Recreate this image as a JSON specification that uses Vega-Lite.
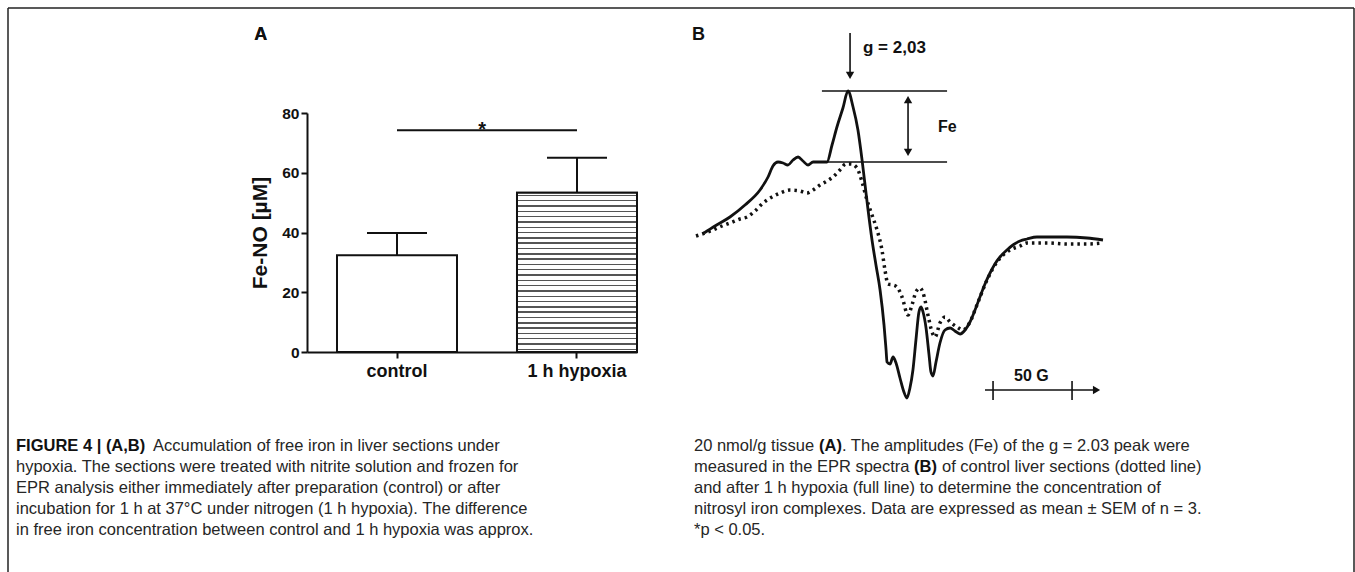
{
  "$schema": "https://vega.github.io/schema/vega-lite/v6.json",
  "width": 1346,
  "height": 564,
  "autosize": {"type": "none"},
  "padding": {"left": 8, "top": 8, "right": 1, "bottom": 0},
  "background": "white",
  "config": {"view": {"stroke": null}, "font": "Liberation Sans"},
  "datasets": {
    "bars": [
      {"group": "control", "mean": 32.4, "upper": 39.8},
      {"group": "1 h hypoxia", "mean": 53.3, "upper": 65.0}
    ],
    "sig": [{"from": "control", "to": "1 h hypoxia", "level": 74.2, "label": "*"}],
    "spectra": [
      {"series": "1 h hypoxia", "G": 5.1, "I": 1.5},
      {"series": "1 h hypoxia", "G": 12.0, "I": 5.0},
      {"series": "1 h hypoxia", "G": 21.5, "I": 9.5},
      {"series": "1 h hypoxia", "G": 31.0, "I": 15.5},
      {"series": "1 h hypoxia", "G": 40.5, "I": 23.0},
      {"series": "1 h hypoxia", "G": 45.6, "I": 29.5},
      {"series": "1 h hypoxia", "G": 48.7, "I": 35.0},
      {"series": "1 h hypoxia", "G": 51.9, "I": 37.0},
      {"series": "1 h hypoxia", "G": 55.1, "I": 36.5},
      {"series": "1 h hypoxia", "G": 58.2, "I": 35.5},
      {"series": "1 h hypoxia", "G": 61.4, "I": 38.0},
      {"series": "1 h hypoxia", "G": 64.6, "I": 39.5},
      {"series": "1 h hypoxia", "G": 67.7, "I": 37.5},
      {"series": "1 h hypoxia", "G": 70.9, "I": 35.5},
      {"series": "1 h hypoxia", "G": 74.1, "I": 37.0},
      {"series": "1 h hypoxia", "G": 77.2, "I": 37.0},
      {"series": "1 h hypoxia", "G": 82.9, "I": 37.0},
      {"series": "1 h hypoxia", "G": 86.1, "I": 45.5},
      {"series": "1 h hypoxia", "G": 89.2, "I": 54.5},
      {"series": "1 h hypoxia", "G": 93.0, "I": 64.0},
      {"series": "1 h hypoxia", "G": 96.2, "I": 72.5},
      {"series": "1 h hypoxia", "G": 99.4, "I": 64.5},
      {"series": "1 h hypoxia", "G": 102.5, "I": 53.0},
      {"series": "1 h hypoxia", "G": 105.1, "I": 38.0},
      {"series": "1 h hypoxia", "G": 107.0, "I": 25.5},
      {"series": "1 h hypoxia", "G": 108.9, "I": 13.0},
      {"series": "1 h hypoxia", "G": 111.4, "I": -2.0},
      {"series": "1 h hypoxia", "G": 113.9, "I": -14.5},
      {"series": "1 h hypoxia", "G": 116.5, "I": -27.0},
      {"series": "1 h hypoxia", "G": 119.0, "I": -44.5},
      {"series": "1 h hypoxia", "G": 120.3, "I": -57.0},
      {"series": "1 h hypoxia", "G": 120.9, "I": -63.0},
      {"series": "1 h hypoxia", "G": 122.8, "I": -64.0},
      {"series": "1 h hypoxia", "G": 124.7, "I": -60.5},
      {"series": "1 h hypoxia", "G": 126.6, "I": -63.5},
      {"series": "1 h hypoxia", "G": 129.1, "I": -71.0},
      {"series": "1 h hypoxia", "G": 131.6, "I": -78.0},
      {"series": "1 h hypoxia", "G": 133.5, "I": -81.0},
      {"series": "1 h hypoxia", "G": 135.4, "I": -76.0},
      {"series": "1 h hypoxia", "G": 137.3, "I": -67.0},
      {"series": "1 h hypoxia", "G": 139.2, "I": -52.0},
      {"series": "1 h hypoxia", "G": 141.1, "I": -38.0},
      {"series": "1 h hypoxia", "G": 142.4, "I": -35.5},
      {"series": "1 h hypoxia", "G": 143.7, "I": -38.0},
      {"series": "1 h hypoxia", "G": 145.6, "I": -46.0},
      {"series": "1 h hypoxia", "G": 147.5, "I": -59.5},
      {"series": "1 h hypoxia", "G": 148.7, "I": -68.0},
      {"series": "1 h hypoxia", "G": 150.0, "I": -70.0},
      {"series": "1 h hypoxia", "G": 151.9, "I": -63.0},
      {"series": "1 h hypoxia", "G": 154.4, "I": -53.5},
      {"series": "1 h hypoxia", "G": 157.6, "I": -47.0},
      {"series": "1 h hypoxia", "G": 160.8, "I": -46.0},
      {"series": "1 h hypoxia", "G": 163.9, "I": -47.5},
      {"series": "1 h hypoxia", "G": 167.1, "I": -49.0},
      {"series": "1 h hypoxia", "G": 170.3, "I": -47.0},
      {"series": "1 h hypoxia", "G": 173.4, "I": -43.0},
      {"series": "1 h hypoxia", "G": 176.6, "I": -37.0},
      {"series": "1 h hypoxia", "G": 179.7, "I": -30.5},
      {"series": "1 h hypoxia", "G": 182.9, "I": -24.0},
      {"series": "1 h hypoxia", "G": 186.1, "I": -18.5},
      {"series": "1 h hypoxia", "G": 189.2, "I": -14.0},
      {"series": "1 h hypoxia", "G": 192.4, "I": -10.5},
      {"series": "1 h hypoxia", "G": 196.8, "I": -7.0},
      {"series": "1 h hypoxia", "G": 200.6, "I": -4.5},
      {"series": "1 h hypoxia", "G": 205.1, "I": -2.5},
      {"series": "1 h hypoxia", "G": 209.5, "I": -1.5},
      {"series": "1 h hypoxia", "G": 215.8, "I": -0.5},
      {"series": "1 h hypoxia", "G": 222.2, "I": -0.5},
      {"series": "1 h hypoxia", "G": 234.8, "I": -0.5},
      {"series": "1 h hypoxia", "G": 247.5, "I": -1.0},
      {"series": "1 h hypoxia", "G": 257.6, "I": -2.0},
      {"series": "control", "G": 0.0, "I": 0.0},
      {"series": "control", "G": 5.7, "I": 1.5},
      {"series": "control", "G": 10.8, "I": 3.0},
      {"series": "control", "G": 16.5, "I": 5.0},
      {"series": "control", "G": 21.5, "I": 6.5},
      {"series": "control", "G": 27.8, "I": 8.5},
      {"series": "control", "G": 32.3, "I": 9.5},
      {"series": "control", "G": 37.3, "I": 12.5},
      {"series": "control", "G": 42.4, "I": 16.5},
      {"series": "control", "G": 48.1, "I": 19.5},
      {"series": "control", "G": 53.2, "I": 21.5},
      {"series": "control", "G": 59.5, "I": 23.0},
      {"series": "control", "G": 65.8, "I": 22.5},
      {"series": "control", "G": 70.3, "I": 21.5},
      {"series": "control", "G": 74.1, "I": 23.0},
      {"series": "control", "G": 78.5, "I": 25.5},
      {"series": "control", "G": 82.9, "I": 27.5},
      {"series": "control", "G": 86.7, "I": 29.5},
      {"series": "control", "G": 91.1, "I": 33.0},
      {"series": "control", "G": 94.9, "I": 36.0},
      {"series": "control", "G": 98.1, "I": 36.0},
      {"series": "control", "G": 101.9, "I": 34.0},
      {"series": "control", "G": 105.1, "I": 27.0},
      {"series": "control", "G": 108.2, "I": 18.0},
      {"series": "control", "G": 111.4, "I": 10.5},
      {"series": "control", "G": 114.6, "I": 3.0},
      {"series": "control", "G": 117.7, "I": -7.0},
      {"series": "control", "G": 119.6, "I": -17.0},
      {"series": "control", "G": 121.5, "I": -24.0},
      {"series": "control", "G": 124.7, "I": -24.5},
      {"series": "control", "G": 127.2, "I": -25.5},
      {"series": "control", "G": 130.4, "I": -30.5},
      {"series": "control", "G": 134.2, "I": -39.5},
      {"series": "control", "G": 136.7, "I": -34.5},
      {"series": "control", "G": 139.2, "I": -28.0},
      {"series": "control", "G": 141.8, "I": -26.0},
      {"series": "control", "G": 144.3, "I": -30.0},
      {"series": "control", "G": 146.8, "I": -39.5},
      {"series": "control", "G": 149.4, "I": -48.0},
      {"series": "control", "G": 151.3, "I": -50.5},
      {"series": "control", "G": 154.4, "I": -43.5},
      {"series": "control", "G": 157.6, "I": -40.5},
      {"series": "control", "G": 160.8, "I": -43.0},
      {"series": "control", "G": 165.2, "I": -45.5},
      {"series": "control", "G": 169.0, "I": -47.0},
      {"series": "control", "G": 173.4, "I": -43.0},
      {"series": "control", "G": 177.8, "I": -34.5},
      {"series": "control", "G": 184.2, "I": -22.0},
      {"series": "control", "G": 190.5, "I": -13.0},
      {"series": "control", "G": 198.7, "I": -7.0},
      {"series": "control", "G": 205.1, "I": -5.0},
      {"series": "control", "G": 209.5, "I": -3.5},
      {"series": "control", "G": 222.2, "I": -3.5},
      {"series": "control", "G": 234.8, "I": -4.0},
      {"series": "control", "G": 247.5, "I": -4.0},
      {"series": "control", "G": 257.6, "I": -3.5}
    ],
    "caption": [
      {"col": "left", "line": 2, "text": "hypoxia. The sections were treated with nitrite solution and frozen for"},
      {"col": "left", "line": 3, "text": "EPR analysis either immediately after preparation (control) or after"},
      {"col": "left", "line": 4, "text": "incubation for 1 h at 37°C under nitrogen (1 h hypoxia). The difference"},
      {"col": "left", "line": 5, "text": "in free iron concentration between control and 1 h hypoxia was approx."},
      {"col": "right", "line": 1, "text": "20 nmol/g tissue"},
      {"col": "right", "line": 2, "text": "measured in the EPR spectra"},
      {"col": "right", "line": 3, "text": "and after 1 h hypoxia (full line) to determine the concentration of"},
      {"col": "right", "line": 4, "text": "nitrosyl iron complexes. Data are expressed as mean ± SEM of n = 3."},
      {"col": "right", "line": 5, "text": "*p < 0.05."}
    ]
  },
  "resolve": {"scale": {"x": "independent", "y": "independent"}},
  "layer": [
    {
      "data": {"values": [{"part": "frame"}]},
      "layer": [
        {"mark": {"type": "rule", "stroke": "#222", "strokeWidth": 1.5},
         "encoding": {"x": {"datum": 0, "type": "quantitative", "scale": {"domain": [0, 1]}, "axis": null}}},
        {"mark": {"type": "rule", "stroke": "#222", "strokeWidth": 1.5},
         "encoding": {"x": {"datum": 1, "type": "quantitative", "scale": {"domain": [0, 1]}, "axis": null}}},
        {"mark": {"type": "rule", "stroke": "#222", "strokeWidth": 1.5},
         "encoding": {"y": {"datum": 1, "type": "quantitative", "scale": {"domain": [0, 1]}, "axis": null}}}
      ]
    },
    {
      "data": {"name": "bars"},
      "layer": [
        {"mark": {"type": "bar", "fill": "white", "stroke": "#111", "strokeWidth": 2},
         "encoding": {
           "x": {"field": "group", "type": "nominal", "sort": null,
                 "scale": {"type": "band", "domain": ["control", "1 h hypoxia"], "range": [299, 629], "paddingInner": 0.3333, "paddingOuter": 0.08333, "align": 1},
                 "axis": {"orient": "bottom", "offset": -220, "title": null, "labelAngle": 0, "labelFont": "Liberation Sans", "labelFontSize": 18, "labelFontWeight": "bold", "labelColor": "#111", "labelPadding": 4, "tickSize": 6, "tickWidth": 2, "tickColor": "#111", "domainWidth": 2, "domainColor": "#111", "grid": false}},
           "y": {"field": "mean", "type": "quantitative",
                 "scale": {"domain": [0, 80], "range": [344, 105], "nice": false},
                 "axis": {"orient": "left", "offset": -299, "values": [0, 20, 40, 60, 80], "title": "Fe-NO [µM]", "titleFont": "Liberation Sans", "titleFontSize": 21, "titleFontWeight": "bold", "titleColor": "#111", "titlePadding": 11, "labelFont": "Liberation Sans", "labelFontSize": 15.5, "labelFontWeight": "bold", "labelColor": "#111", "labelPadding": 2, "tickSize": 6, "tickWidth": 2, "tickColor": "#111", "domainWidth": 2, "domainColor": "#111", "grid": false}}
         }},
        {"transform": [{"filter": "datum.group === '1 h hypoxia'"}],
         "mark": {"type": "bar", "stroke": "#111", "strokeWidth": 2,
                  "fill": {"gradient": "linear", "x1": 0, "y1": 0, "x2": 0, "y2": 1, "stops": [
                    {"offset": 0, "color": "#fff"},
                    {"offset": 0.0122, "color": "#fff"}, {"offset": 0.0122, "color": "#555"}, {"offset": 0.0212, "color": "#555"}, {"offset": 0.0212, "color": "#fff"},
                    {"offset": 0.0455, "color": "#fff"}, {"offset": 0.0455, "color": "#555"}, {"offset": 0.0545, "color": "#555"}, {"offset": 0.0545, "color": "#fff"},
                    {"offset": 0.0788, "color": "#fff"}, {"offset": 0.0788, "color": "#555"}, {"offset": 0.0878, "color": "#555"}, {"offset": 0.0878, "color": "#fff"},
                    {"offset": 0.1122, "color": "#fff"}, {"offset": 0.1122, "color": "#555"}, {"offset": 0.1212, "color": "#555"}, {"offset": 0.1212, "color": "#fff"},
                    {"offset": 0.1455, "color": "#fff"}, {"offset": 0.1455, "color": "#555"}, {"offset": 0.1545, "color": "#555"}, {"offset": 0.1545, "color": "#fff"},
                    {"offset": 0.1788, "color": "#fff"}, {"offset": 0.1788, "color": "#555"}, {"offset": 0.1878, "color": "#555"}, {"offset": 0.1878, "color": "#fff"},
                    {"offset": 0.2122, "color": "#fff"}, {"offset": 0.2122, "color": "#555"}, {"offset": 0.2212, "color": "#555"}, {"offset": 0.2212, "color": "#fff"},
                    {"offset": 0.2455, "color": "#fff"}, {"offset": 0.2455, "color": "#555"}, {"offset": 0.2545, "color": "#555"}, {"offset": 0.2545, "color": "#fff"},
                    {"offset": 0.2788, "color": "#fff"}, {"offset": 0.2788, "color": "#555"}, {"offset": 0.2878, "color": "#555"}, {"offset": 0.2878, "color": "#fff"},
                    {"offset": 0.3122, "color": "#fff"}, {"offset": 0.3122, "color": "#555"}, {"offset": 0.3212, "color": "#555"}, {"offset": 0.3212, "color": "#fff"},
                    {"offset": 0.3455, "color": "#fff"}, {"offset": 0.3455, "color": "#555"}, {"offset": 0.3545, "color": "#555"}, {"offset": 0.3545, "color": "#fff"},
                    {"offset": 0.3788, "color": "#fff"}, {"offset": 0.3788, "color": "#555"}, {"offset": 0.3878, "color": "#555"}, {"offset": 0.3878, "color": "#fff"},
                    {"offset": 0.4122, "color": "#fff"}, {"offset": 0.4122, "color": "#555"}, {"offset": 0.4212, "color": "#555"}, {"offset": 0.4212, "color": "#fff"},
                    {"offset": 0.4455, "color": "#fff"}, {"offset": 0.4455, "color": "#555"}, {"offset": 0.4545, "color": "#555"}, {"offset": 0.4545, "color": "#fff"},
                    {"offset": 0.4788, "color": "#fff"}, {"offset": 0.4788, "color": "#555"}, {"offset": 0.4878, "color": "#555"}, {"offset": 0.4878, "color": "#fff"},
                    {"offset": 0.5122, "color": "#fff"}, {"offset": 0.5122, "color": "#555"}, {"offset": 0.5212, "color": "#555"}, {"offset": 0.5212, "color": "#fff"},
                    {"offset": 0.5455, "color": "#fff"}, {"offset": 0.5455, "color": "#555"}, {"offset": 0.5545, "color": "#555"}, {"offset": 0.5545, "color": "#fff"},
                    {"offset": 0.5788, "color": "#fff"}, {"offset": 0.5788, "color": "#555"}, {"offset": 0.5878, "color": "#555"}, {"offset": 0.5878, "color": "#fff"},
                    {"offset": 0.6122, "color": "#fff"}, {"offset": 0.6122, "color": "#555"}, {"offset": 0.6212, "color": "#555"}, {"offset": 0.6212, "color": "#fff"},
                    {"offset": 0.6455, "color": "#fff"}, {"offset": 0.6455, "color": "#555"}, {"offset": 0.6545, "color": "#555"}, {"offset": 0.6545, "color": "#fff"},
                    {"offset": 0.6788, "color": "#fff"}, {"offset": 0.6788, "color": "#555"}, {"offset": 0.6878, "color": "#555"}, {"offset": 0.6878, "color": "#fff"},
                    {"offset": 0.7122, "color": "#fff"}, {"offset": 0.7122, "color": "#555"}, {"offset": 0.7212, "color": "#555"}, {"offset": 0.7212, "color": "#fff"},
                    {"offset": 0.7455, "color": "#fff"}, {"offset": 0.7455, "color": "#555"}, {"offset": 0.7545, "color": "#555"}, {"offset": 0.7545, "color": "#fff"},
                    {"offset": 0.7788, "color": "#fff"}, {"offset": 0.7788, "color": "#555"}, {"offset": 0.7878, "color": "#555"}, {"offset": 0.7878, "color": "#fff"},
                    {"offset": 0.8122, "color": "#fff"}, {"offset": 0.8122, "color": "#555"}, {"offset": 0.8212, "color": "#555"}, {"offset": 0.8212, "color": "#fff"},
                    {"offset": 0.8455, "color": "#fff"}, {"offset": 0.8455, "color": "#555"}, {"offset": 0.8545, "color": "#555"}, {"offset": 0.8545, "color": "#fff"},
                    {"offset": 0.8788, "color": "#fff"}, {"offset": 0.8788, "color": "#555"}, {"offset": 0.8878, "color": "#555"}, {"offset": 0.8878, "color": "#fff"},
                    {"offset": 0.9122, "color": "#fff"}, {"offset": 0.9122, "color": "#555"}, {"offset": 0.9212, "color": "#555"}, {"offset": 0.9212, "color": "#fff"},
                    {"offset": 0.9455, "color": "#fff"}, {"offset": 0.9455, "color": "#555"}, {"offset": 0.9545, "color": "#555"}, {"offset": 0.9545, "color": "#fff"},
                    {"offset": 0.9788, "color": "#fff"}, {"offset": 0.9788, "color": "#555"}, {"offset": 0.9878, "color": "#555"}, {"offset": 0.9878, "color": "#fff"},
                    {"offset": 1, "color": "#fff"}
                  ]}},
         "encoding": {"x": {"field": "group", "type": "nominal"}, "y": {"field": "mean", "type": "quantitative"}}},
        {"mark": {"type": "rule", "stroke": "#111", "strokeWidth": 2},
         "encoding": {"x": {"field": "group", "type": "nominal"}, "y": {"field": "mean", "type": "quantitative"}, "y2": {"field": "upper"}}},
        {"mark": {"type": "tick", "color": "#111", "size": 60, "thickness": 2, "orient": "horizontal", "opacity": 1},
         "encoding": {"x": {"field": "group", "type": "nominal"}, "y": {"field": "upper", "type": "quantitative"}}},
        {"data": {"name": "sig"},
         "mark": {"type": "rule", "stroke": "#111", "strokeWidth": 2},
         "encoding": {"x": {"field": "from", "type": "nominal"}, "x2": {"field": "to"}, "y": {"field": "level", "type": "quantitative"}}},
        {"data": {"name": "sig"},
         "mark": {"type": "text", "font": "Liberation Sans", "fontSize": 20, "fontWeight": "bold", "color": "#111", "baseline": "alphabetic", "align": "center", "dy": 6},
         "encoding": {"x": {"field": "from", "type": "nominal", "bandPosition": 1.21}, "y": {"field": "level", "type": "quantitative"}, "text": {"field": "label"}}},
        {"mark": {"type": "text", "font": "Liberation Sans", "fontSize": 18, "fontWeight": "bold", "color": "#111", "align": "left", "baseline": "middle"},
         "encoding": {"x": {"datum": "control", "type": "nominal", "bandPosition": -0.69}, "y": {"datum": 106, "type": "quantitative"}, "text": {"value": "A"}}}
      ]
    },
    {
      "layer": [
        {"data": {"name": "spectra"},
         "transform": [{"filter": "datum.series === 'control'"}],
         "mark": {"type": "line", "stroke": "#111", "strokeWidth": 3.5, "strokeDash": [2.5, 4], "strokeCap": "butt", "interpolate": "monotone"},
         "encoding": {
           "x": {"field": "G", "type": "quantitative", "scale": {"domain": [0, 260], "range": [688, 1098.8], "nice": false, "zero": false}, "axis": null},
           "y": {"field": "I", "type": "quantitative", "scale": {"domain": [-90, 110], "range": [408, 8], "nice": false, "zero": false}, "axis": null}
         }},
        {"data": {"name": "spectra"},
         "transform": [{"filter": "datum.series === '1 h hypoxia'"}],
         "mark": {"type": "line", "stroke": "#111", "strokeWidth": 2.8, "interpolate": "monotone"},
         "encoding": {"x": {"field": "G", "type": "quantitative"}, "y": {"field": "I", "type": "quantitative"}}},
        {"data": {"values": [{"G": 79.7, "G2": 158.9, "I": 72.5}, {"G": 81.0, "G2": 158.9, "I": 37.0}, {"G": 182.9, "G2": 253.0, "I": -77.0}]},
         "mark": {"type": "rule", "stroke": "#111", "strokeWidth": 1.6},
         "encoding": {"x": {"field": "G", "type": "quantitative"}, "x2": {"field": "G2"}, "y": {"field": "I", "type": "quantitative"}}},
        {"data": {"values": [{"G": 134.2, "I": 41.8, "I2": 68.2}, {"G": 97.5, "I": 81.0, "I2": 101.5}, {"G": 188.0, "I": -72.5, "I2": -82.0}, {"G": 238.0, "I": -72.5, "I2": -82.0}]},
         "mark": {"type": "rule", "stroke": "#111", "strokeWidth": 1.6},
         "encoding": {"x": {"field": "G", "type": "quantitative"}, "y": {"field": "I", "type": "quantitative"}, "y2": {"field": "I2"}}},
        {"data": {"values": [{"G": 134.2, "I": 68.2}]},
         "mark": {"type": "point", "shape": "triangle-up", "filled": true, "color": "#111", "size": 70, "opacity": 1},
         "encoding": {"x": {"field": "G", "type": "quantitative"}, "y": {"field": "I", "type": "quantitative"}}},
        {"data": {"values": [{"G": 134.2, "I": 41.8}, {"G": 97.5, "I": 80.3}]},
         "mark": {"type": "point", "shape": "triangle-down", "filled": true, "color": "#111", "size": 70, "opacity": 1},
         "encoding": {"x": {"field": "G", "type": "quantitative"}, "y": {"field": "I", "type": "quantitative"}}},
        {"data": {"values": [{"G": 253.5, "I": -77.0}]},
         "mark": {"type": "point", "shape": "triangle-right", "filled": true, "color": "#111", "size": 70, "opacity": 1},
         "encoding": {"x": {"field": "G", "type": "quantitative"}, "y": {"field": "I", "type": "quantitative"}}},
        {"data": {"values": [{"G": 105.7, "I": 94.0, "t": "g = 2,03"}]},
         "mark": {"type": "text", "font": "Liberation Sans", "fontSize": 17, "fontWeight": "bold", "color": "#111", "align": "left", "baseline": "middle"},
         "encoding": {"x": {"field": "G", "type": "quantitative"}, "y": {"field": "I", "type": "quantitative"}, "text": {"field": "t"}}},
        {"data": {"values": [{"G": 153.2, "I": 54.5, "t": "Fe"}, {"G": 201.3, "I": -70.0, "t": "50 G"}]},
         "mark": {"type": "text", "font": "Liberation Sans", "fontSize": 16, "fontWeight": "bold", "color": "#111", "align": "left", "baseline": "middle"},
         "encoding": {"x": {"field": "G", "type": "quantitative"}, "y": {"field": "I", "type": "quantitative"}, "text": {"field": "t"}}},
        {"data": {"values": [{"G": -2.5, "I": 100.5, "t": "B"}]},
         "mark": {"type": "text", "font": "Liberation Sans", "fontSize": 18, "fontWeight": "bold", "color": "#111", "align": "left", "baseline": "middle"},
         "encoding": {"x": {"field": "G", "type": "quantitative"}, "y": {"field": "I", "type": "quantitative"}, "text": {"field": "t"}}}
      ]
    },
    {
      "layer": [
        {"data": {"name": "caption"},
         "mark": {"type": "text", "font": "Liberation Sans", "fontSize": 16.5, "color": "#262626", "align": "left", "baseline": "middle"},
         "encoding": {
           "x": {"field": "col", "type": "nominal", "scale": {"type": "point", "domain": ["left", "right"], "range": [8, 686], "padding": 0}, "axis": null},
           "y": {"field": "line", "type": "ordinal", "scale": {"type": "point", "domain": [1, 2, 3, 4, 5], "range": [438, 522], "padding": 0}, "axis": null},
           "text": {"field": "text"}
         }},
        {"data": {"values": [{"col": "left", "line": 1, "text": "FIGURE 4 | (A,B)"}]},
         "mark": {"type": "text", "font": "Liberation Sans", "fontSize": 16.5, "fontWeight": "bold", "color": "#111", "align": "left", "baseline": "middle"},
         "encoding": {"x": {"field": "col", "type": "nominal"}, "y": {"field": "line", "type": "ordinal"}, "text": {"field": "text"}}},
        {"data": {"values": [{"col": "left", "line": 1, "text": "Accumulation of free iron in liver sections under"}]},
         "mark": {"type": "text", "font": "Liberation Sans", "fontSize": 16.5, "color": "#262626", "align": "left", "baseline": "middle", "dx": 137},
         "encoding": {"x": {"field": "col", "type": "nominal"}, "y": {"field": "line", "type": "ordinal"}, "text": {"field": "text"}}},
        {"data": {"values": [{"col": "right", "line": 1, "text": "(A)"}]},
         "mark": {"type": "text", "font": "Liberation Sans", "fontSize": 16.5, "fontWeight": "bold", "color": "#111", "align": "left", "baseline": "middle", "dx": 125},
         "encoding": {"x": {"field": "col", "type": "nominal"}, "y": {"field": "line", "type": "ordinal"}, "text": {"field": "text"}}},
        {"data": {"values": [{"col": "right", "line": 1, "text": ". The amplitudes (Fe) of the g = 2.03 peak were"}]},
         "mark": {"type": "text", "font": "Liberation Sans", "fontSize": 16.5, "color": "#262626", "align": "left", "baseline": "middle", "dx": 148},
         "encoding": {"x": {"field": "col", "type": "nominal"}, "y": {"field": "line", "type": "ordinal"}, "text": {"field": "text"}}},
        {"data": {"values": [{"col": "right", "line": 2, "text": "(B)"}]},
         "mark": {"type": "text", "font": "Liberation Sans", "fontSize": 16.5, "fontWeight": "bold", "color": "#111", "align": "left", "baseline": "middle", "dx": 220},
         "encoding": {"x": {"field": "col", "type": "nominal"}, "y": {"field": "line", "type": "ordinal"}, "text": {"field": "text"}}},
        {"data": {"values": [{"col": "right", "line": 2, "text": "of control liver sections (dotted line)"}]},
         "mark": {"type": "text", "font": "Liberation Sans", "fontSize": 16.5, "color": "#262626", "align": "left", "baseline": "middle", "dx": 248},
         "encoding": {"x": {"field": "col", "type": "nominal"}, "y": {"field": "line", "type": "ordinal"}, "text": {"field": "text"}}}
      ]
    }
  ]
}
